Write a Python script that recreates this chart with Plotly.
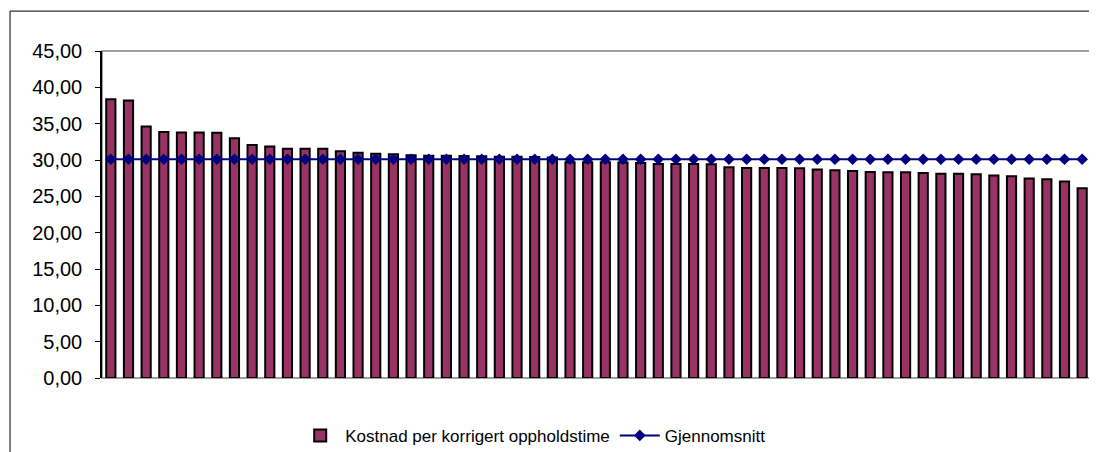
import plotly.graph_objects as go

# Data (sorted descending)
kategorier = [str(i) for i in range(1, 57)]
kostnad = [
    38.35, 38.20, 34.60, 33.85, 33.80, 33.80, 33.75, 33.00, 32.05, 31.85,
    31.55, 31.55, 31.55, 31.20, 31.00, 30.85, 30.80, 30.65, 30.60, 30.60,
    30.55, 30.50, 30.45, 30.45, 30.40, 30.35, 29.70, 29.70, 29.68, 29.65,
    29.60, 29.45, 29.45, 29.45, 29.40, 29.00, 28.90, 28.90, 28.90, 28.85,
    28.70, 28.60, 28.50, 28.35, 28.30, 28.30, 28.20, 28.10, 28.10, 28.05,
    27.85, 27.75, 27.45, 27.35, 27.05, 26.10,
]
gjennomsnitt_verdi = 30.10
gjennomsnitt = [gjennomsnitt_verdi] * len(kategorier)
y_ticks = [0, 5, 10, 15, 20, 25, 30, 35, 40, 45]

fig = go.Figure()
fig.add_trace(go.Bar(
    x=kategorier, y=kostnad,
    name="Kostnad per korrigert oppholdstime",
    marker=dict(color="#993366", line=dict(color="#000000", width=2)),
))
fig.add_trace(go.Scatter(
    x=kategorier, y=gjennomsnitt, mode="lines+markers",
    name="Gjennomsnitt",
    line=dict(color="#000080", width=2),
    marker=dict(symbol="diamond", size=9, color="#000080"),
))

# page body has an 8px default margin, so the figure is sized/offset to compensate
fig.update_layout(
    width=1089, height=444,
    margin=dict(l=94, r=6, t=43, b=74, autoexpand=False),
    paper_bgcolor="white", plot_bgcolor="white",
    separators=", ",
    bargap=0.48,
    font=dict(family="Arial, Liberation Sans, sans-serif", size=17, color="#000000"),
    showlegend=True,
    legend=dict(orientation="h", x=0.436, xanchor="center", y=-0.177, yanchor="middle",
                font=dict(size=17), itemwidth=40, traceorder="normal"),
    shapes=[
        dict(type="rect", xref="paper", yref="paper", x0=0, x1=1, y0=0, y1=1,
             line=dict(color="#808080", width=1.5), fillcolor="rgba(0,0,0,0)", layer="below"),
        dict(type="rect", xref="paper", yref="paper", x0=-0.093, x1=1.3, y0=-0.6, y1=1.122,
             line=dict(color="#000000", width=1), fillcolor="rgba(0,0,0,0)", layer="below"),
    ],
)
fig.update_xaxes(showticklabels=False, ticks="", showgrid=False, zeroline=False,
                 showline=False, range=[-0.5, len(kategorier) - 0.5])
fig.update_yaxes(range=[0, 45], tickvals=y_ticks, tickformat=".2f",
                 showgrid=False, zeroline=False,
                 showline=True, linecolor="#000000", linewidth=1.5,
                 ticks="outside", ticklen=5, tickcolor="#000000", tickwidth=1,
                 ticklabelstandoff=9, tickfont=dict(size=20))

fig.write_html("out.html")
